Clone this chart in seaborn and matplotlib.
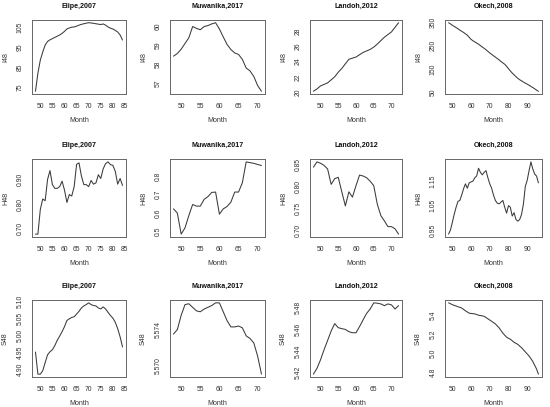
import numpy as np
import matplotlib
matplotlib.use("Agg")
import matplotlib.pyplot as plt
import seaborn as sns

# month ranges per district
elipe_months = np.arange(48, 85)
muwanika_months = np.arange(48, 72)
landoh_months = np.arange(48, 73)
okech_months = np.arange(48, 97)

# I48
elipe_i48 = [73.0, 82.0, 88.5, 92.5, 96.0, 97.8, 98.6, 99.2, 99.8, 100.4,
             101.0, 101.8, 102.8, 104.0, 104.5, 104.9, 105.0, 105.4, 105.9, 106.3,
             106.6, 106.9, 107.1, 107.0, 106.8, 106.6, 106.4, 106.2, 106.5, 105.9,
             105.0, 104.4, 104.0, 103.3, 102.5, 101.0, 98.5]
muwanika_i48 = [58.43, 58.57, 58.8, 59.1, 59.4, 60.0, 59.9, 59.83, 60.0, 60.05,
                60.14, 60.2, 59.87, 59.45, 59.05, 58.78, 58.6, 58.52, 58.26, 57.8,
                57.65, 57.35, 56.87, 56.57]
landoh_i48 = [20.1, 20.4, 20.8, 21.0, 21.2, 21.6, 22.0, 22.6, 23.1, 23.7,
              24.3, 24.45, 24.6, 24.9, 25.2, 25.4, 25.6, 25.9, 26.3, 26.75,
              27.2, 27.55, 27.9, 28.5, 29.1]
okech_i48 = [350, 345, 339, 334, 329, 324, 318, 313, 308, 302,
             296, 287, 278, 272, 267, 262, 257, 251, 245, 239,
             233, 226, 219, 213, 207, 201, 195, 189, 182, 176,
             170, 161, 151, 141, 132, 124, 116, 109, 103, 98,
             93, 88, 84, 79, 74, 69, 64, 58, 53]

# H48
elipe_h48 = [0.679, 0.679, 0.779, 0.821, 0.814, 0.900, 0.936, 0.879, 0.864, 0.864,
             0.871, 0.893, 0.857, 0.807, 0.839, 0.833, 0.871, 0.961, 0.967, 0.914,
             0.879, 0.879, 0.871, 0.896, 0.881, 0.886, 0.919, 0.904, 0.943, 0.964,
             0.971, 0.960, 0.957, 0.933, 0.881, 0.904, 0.876]
muwanika_h48 = [0.623, 0.600, 0.485, 0.519, 0.586, 0.647, 0.638, 0.638, 0.675, 0.690,
                0.713, 0.715, 0.594, 0.623, 0.636, 0.660, 0.715, 0.715, 0.766, 0.880,
                0.876, 0.872, 0.866, 0.860]
landoh_h48 = [0.844, 0.856, 0.853, 0.848, 0.840, 0.805, 0.818, 0.821, 0.788, 0.756,
              0.788, 0.776, 0.802, 0.826, 0.824, 0.820, 0.812, 0.802, 0.760, 0.734,
              0.722, 0.709, 0.709, 0.704, 0.692]
okech_h48 = [0.933, 0.950, 0.981, 1.014, 1.043, 1.067, 1.071, 1.093, 1.119, 1.139,
             1.121, 1.143, 1.147, 1.150, 1.164, 1.171, 1.203, 1.186, 1.176, 1.186,
             1.193, 1.164, 1.139, 1.121, 1.093, 1.071, 1.060, 1.057, 1.064, 1.071,
             1.043, 1.019, 1.050, 1.043, 1.007, 1.021, 0.993, 0.986, 0.993, 1.014,
             1.057, 1.129, 1.153, 1.193, 1.229, 1.200, 1.179, 1.171, 1.143]

# S48
elipe_s48 = [4.952, 4.887, 4.887, 4.897, 4.921, 4.944, 4.953, 4.959, 4.971, 4.987,
             4.999, 5.012, 5.027, 5.045, 5.050, 5.054, 5.056, 5.064, 5.072, 5.082,
             5.088, 5.092, 5.097, 5.092, 5.089, 5.088, 5.082, 5.079, 5.085, 5.079,
             5.069, 5.060, 5.052, 5.040, 5.021, 4.997, 4.967]
muwanika_s48 = [5.5735, 5.5740, 5.5756, 5.5768, 5.5769, 5.5765, 5.5761, 5.5760, 5.5763, 5.5765,
                5.5767, 5.5770, 5.5770, 5.5760, 5.5750, 5.5743, 5.5743, 5.5744, 5.5742, 5.5733,
                5.5730, 5.5725, 5.5710, 5.5690]
landoh_s48 = [5.4184, 5.4238, 5.4317, 5.4411, 5.4497, 5.4585, 5.4654, 5.4616, 5.4607, 5.4600,
              5.4579, 5.4569, 5.4569, 5.4626, 5.4689, 5.4749, 5.4790, 5.4847, 5.4844, 5.4837,
              5.4821, 5.4837, 5.4828, 5.4790, 5.4821]
okech_s48 = [5.529, 5.520, 5.510, 5.503, 5.496, 5.489, 5.482, 5.475, 5.461, 5.446,
             5.434, 5.421, 5.419, 5.416, 5.414, 5.407, 5.400, 5.397, 5.393, 5.389,
             5.376, 5.363, 5.350, 5.337, 5.323, 5.310, 5.289, 5.268, 5.241, 5.214,
             5.192, 5.171, 5.160, 5.150, 5.134, 5.118, 5.107, 5.096, 5.078, 5.061,
             5.040, 5.018, 4.997, 4.975, 4.947, 4.918, 4.879, 4.840, 4.786]

titles = ["Elipe,2007", "Muwanika,2017", "Landoh,2012", "Okech,2008"]
row_labels = ["I48", "H48", "S48"]
months = [elipe_months, muwanika_months, landoh_months, okech_months]
series = [[elipe_i48, muwanika_i48, landoh_i48, okech_i48],
          [elipe_h48, muwanika_h48, landoh_h48, okech_h48],
          [elipe_s48, muwanika_s48, landoh_s48, okech_s48]]

x_ticks = [[50, 55, 60, 65, 70, 75, 80, 85], [50, 55, 60, 65, 70],
           [50, 55, 60, 65, 70], [50, 60, 70, 80, 90]]

# y ticks and the labels R kept (blank = label dropped for overlap)
y_ticks = [
    [[75, 80, 85, 90, 95, 100, 105], [57, 58, 59, 60], [20, 22, 24, 26, 28],
     [50, 100, 150, 200, 250, 300, 350]],
    [[0.70, 0.75, 0.80, 0.85, 0.90], [0.5, 0.6, 0.7, 0.8], [0.70, 0.75, 0.80, 0.85],
     [0.95, 1.00, 1.05, 1.10, 1.15, 1.20]],
    [[4.90, 4.95, 5.00, 5.05, 5.10], [5.570, 5.572, 5.574, 5.576],
     [5.42, 5.43, 5.44, 5.45, 5.46, 5.47, 5.48], [4.8, 5.0, 5.2, 5.4]],
]
y_tick_labels = [
    [["75", "", "85", "", "95", "", "105"], ["57", "58", "59", "60"],
     ["20", "22", "24", "26", "28"], ["50", "", "150", "", "250", "", "350"]],
    [["0.70", "", "0.80", "", "0.90"], ["0.5", "0.6", "0.7", "0.8"],
     ["0.70", "0.75", "0.80", "0.85"], ["0.95", "", "1.05", "", "1.15", ""]],
    [["4.90", "4.95", "5.00", "5.05", "5.10"], ["5.570", "", "5.574", ""],
     ["5.42", "", "5.44", "", "5.46", "", "5.48"], ["4.8", "5.0", "5.2", "5.4"]],
]

sns.set_style("white")
plt.rcParams["font.family"] = ["Liberation Sans", "DejaVu Sans"]

W, H = 550, 407
col_left = [32, 170, 310, 445]
col_right = [126, 265, 402, 542]
row_top = [20, 159, 300]
row_bottom = [94, 237, 377]

fig = plt.figure(figsize=(5.5, 4.07), dpi=100)
fig.patch.set_facecolor("white")

for r in range(3):
    for c in range(4):
        rect = [col_left[c] / W, 1 - row_bottom[r] / H,
                (col_right[c] - col_left[c]) / W, (row_bottom[r] - row_top[r]) / H]
        ax = fig.add_axes(rect)
        sns.lineplot(x=months[c], y=series[r][c], ax=ax, color="#3a3a3a", linewidth=0.75)
        ax.margins(x=0.04, y=0.04)
        ax.set_xticks(x_ticks[c])
        ax.set_yticks(y_ticks[r][c])
        ax.set_yticklabels(y_tick_labels[r][c])
        ax.tick_params(direction="out", length=2.8, width=0.5, color="#666666",
                       labelsize=4.9, labelcolor="#333333", pad=3.8)
        ax.tick_params(axis="y", labelrotation=90, pad=3.2)
        for lab in ax.get_yticklabels():
            lab.set_va("center")
        for sp in ax.spines.values():
            sp.set_visible(True)
            sp.set_color("#666666")
            sp.set_linewidth(0.7)
        ax.set_title(titles[c], fontsize=5.1, fontweight="bold", pad=8.5, color="#111111")
        ax.set_xlabel("Month", fontsize=5.1, labelpad=5.0, color="#333333")
        ax.set_ylabel(row_labels[r], fontsize=5.1, labelpad=5.5, color="#333333")

fig.savefig("out.png", dpi=100, facecolor="white")
